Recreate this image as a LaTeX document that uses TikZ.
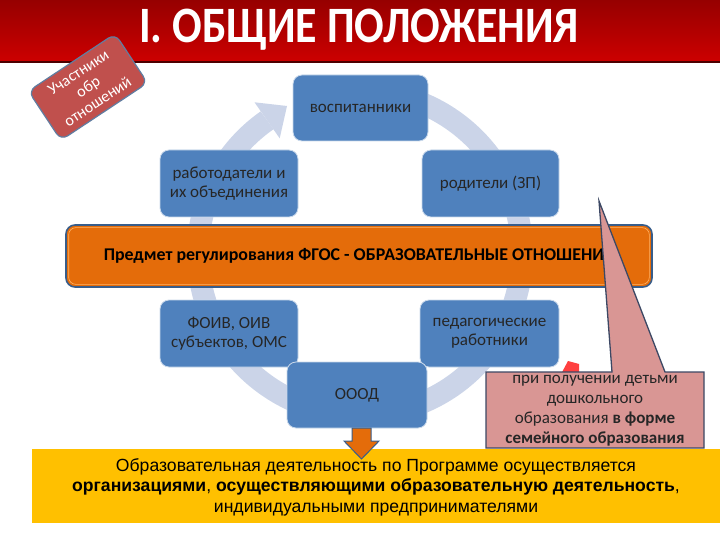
\documentclass[tikz,border=0pt]{standalone}
\usepackage{fontspec}
\setmainfont{Carlito}
\newfontfamily\arialf{Liberation Sans}
\usetikzlibrary{calc}
\definecolor{nodeblue}{RGB}{79,129,189}
\definecolor{ringcol}{RGB}{203,212,232}
\definecolor{barorange}{RGB}{228,108,10}
\definecolor{bordblue}{RGB}{56,93,138}
\definecolor{calloutpink}{RGB}{217,150,148}
\definecolor{calloutline}{RGB}{60,72,100}
\definecolor{labelred}{RGB}{192,80,77}
\definecolor{bandyellow}{RGB}{255,192,0}
\definecolor{titledark}{RGB}{150,0,0}
\definecolor{titlemid}{RGB}{235,0,0}
\definecolor{titlebot}{RGB}{205,0,0}
\begin{document}
\begin{tikzpicture}[x=1pt,y=-1pt,
  bluebox/.style={draw=white!70!nodeblue, line width=0.8pt, fill=nodeblue,
    rounded corners=9pt, minimum height=67pt, align=center,
    font=\fontsize{17}{19}\selectfont, text=black!85, inner sep=2pt},
]
\useasboundingbox (0,0) rectangle (720,540);
\fill[white] (0,0) rectangle (720,540);
% title bar
\shade[top color=titledark, middle color=titlemid, bottom color=titlebot] (0,0) rectangle (720,62);
\draw[black!70!red, line width=1.5pt] (0,62) -- (720,62);
\node[text=white, anchor=base, inner sep=0pt, font=\bfseries\fontsize{51}{55}\selectfont] (title) at (359,43)
  {\scalebox{0.86}[1]{I. ОБЩИЕ ПОЛОЖЕНИЯ}};
% rotated label
\node[rotate=33.5, draw=bordblue!80, line width=1.2pt, fill=labelred, rounded corners=8pt,
  minimum width=104pt, minimum height=59pt, text=white, align=center, inner sep=0pt,
  font=\fontsize{16}{17.5}\selectfont] (members) at (88,87) {Участники\\обр\\отношений};
% cycle ring
\coordinate (c) at (360,253);
\draw[ringcol, line width=22pt] ($(c)+(-95:162)$) arc[start angle=-95, end angle=235, radius=162];
\fill[ringcol] (254.5,102.3) -- (287,106) -- (279.7,138.3) -- cycle;
% nodes
\node[bluebox, minimum width=135pt, minimum height=66pt] (vosp) at (360.5,108) {воспитанники};
\node[bluebox, minimum width=138pt] (rabot) at (229,183.5) {работодатели и\\их объединения};
\node[bluebox, minimum width=137pt] (rodit) at (490.5,183.5) {родители (ЗП)};
\node[draw=bordblue, line width=1.6pt, fill=barorange, rounded corners=9pt,
  minimum width=586pt, minimum height=62pt, font=\bfseries\fontsize{17.9}{19}\selectfont,
  text=black] (bar) at (359,256) {Предмет регулирования ФГОС - ОБРАЗОВАТЕЛЬНЫЕ ОТНОШЕНИЯ};
\draw[orange!60!white, line width=0.6pt, rounded corners=7pt]
  ([shift={(3.5,3.5)}]bar.north west) rectangle ([shift={(-3.5,-3.5)}]bar.south east);
\node[bluebox, minimum width=138pt] (foiv) at (229,333.5) {ФОИВ, ОИВ\\субъектов, ОМС};
\node[bluebox, minimum width=139pt] (pedag) at (489.5,333.5) {педагогические\\работники};
\node[bluebox, minimum width=140pt, minimum height=66pt] (oood) at (357,395) {ОООД};
% small red shape behind callout
\fill[red!75!white] (560,376) -- (568,361) -- (579,364) -- (579,376) -- cycle;
% callout
\draw[calloutline, line width=1.3pt, fill=calloutpink]
  (486,372) -- (612,372) -- (599,201) -- (665,372) -- (704,372) -- (704,448) -- (486,448) -- cycle;
\node[align=center, font=\fontsize{17}{20}\selectfont, text=black!85, inner sep=0pt] (callout) at (595,411)
  {при получении детьми\\дошкольного\\образования \textbf{в форме}\\\textbf{семейного образования}};
% bottom band
\fill[bandyellow] (32,449) rectangle (720,523);
\node[align=center, font=\arialf\fontsize{17.6}{20.5}\selectfont, text=black] (bottom) at (376,487)
  {Образовательная деятельность по Программе осуществляется\\
   \textbf{организациями}, \textbf{осуществляющими образовательную деятельность},\\
   индивидуальными предпринимателями};
% down arrow
\draw[bordblue, line width=1pt, fill=barorange]
  (352,428) -- (371,428) -- (371,441) -- (379,441) -- (361.5,459) -- (344,441) -- (352,441) -- cycle;
\end{tikzpicture}
\end{document}
